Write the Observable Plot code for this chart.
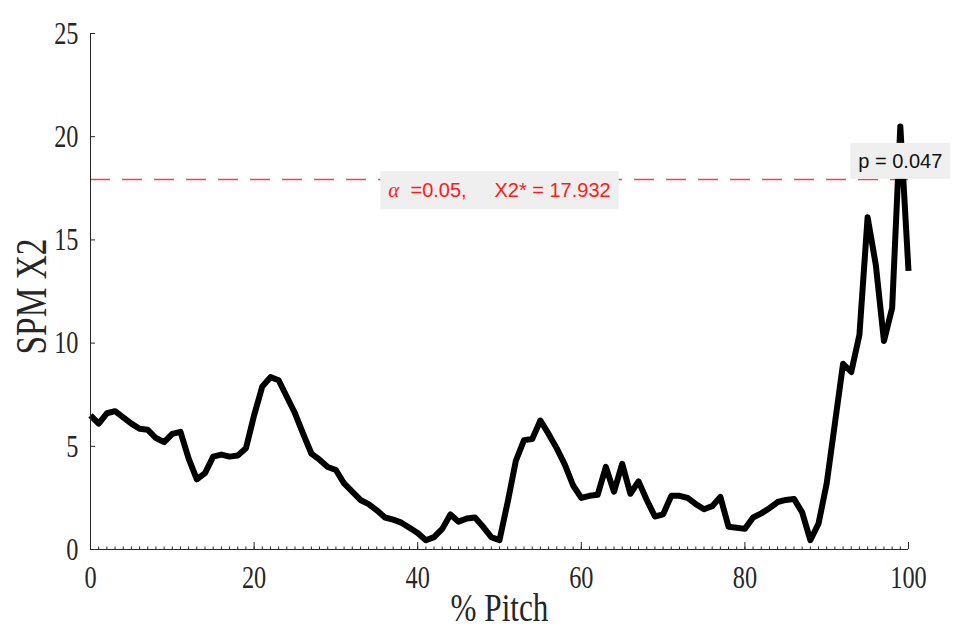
<!DOCTYPE html>
<html>
<head>
<meta charset="utf-8">
<script src="https://cdn.jsdelivr.net/npm/d3@7"></script>
<script src="https://cdn.jsdelivr.net/npm/@observablehq/plot@0.6"></script>
<style>
  html, body { margin: 0; padding: 0; background: #ffffff; }
</style>
</head>
<body>
<div id="chart"></div>
<script>
// ---- data ----
const pitch = [0,1,2,3,4,5,6,7,8,9,10,11,12,13,14,15,16,17,18,19,20,21,22,23,24,25,26,27,28,29,30,31,32,33,34,35,36,37,38,39,40,41,42,43,44,45,46,47,48,49,50,51,52,53,54,55,56,57,58,59,60,61,62,63,64,65,66,67,68,69,70,71,72,73,74,75,76,77,78,79,80,81,82,83,84,85,86,87,88,89,90,91,92,93,94,95,96,97,98,99,100];
const spmX2 = [6.5,6.1,6.6,6.7,6.4,6.1,5.85,5.8,5.4,5.2,5.6,5.7,4.4,3.4,3.7,4.5,4.6,4.5,4.55,4.9,
               6.5,7.9,8.35,8.2,7.4,6.6,5.6,4.65,4.35,4.0,3.85,3.2,2.8,2.4,2.2,1.9,1.55,1.45,1.3,1.05,
               0.8,0.45,0.6,1.0,1.7,1.35,1.5,1.55,1.1,0.6,0.45,2.3,4.3,5.3,5.35,6.25,5.6,4.9,4.1,3.1,
               2.5,2.6,2.65,4.0,2.8,4.15,2.7,3.3,2.4,1.6,1.7,2.6,2.6,2.5,2.2,1.95,2.1,2.55,1.1,1.05,
               1.0,1.55,1.75,2.0,2.3,2.4,2.45,1.8,0.45,1.25,3.2,6.1,9.0,8.6,10.4,16.1,13.8,10.1,11.7,20.5,13.5];
const yTicks = [0,5,10,15,20,25];
const xTicks = [0,20,40,60,80,100];
const threshold = [17.932];
const alphaSymbol = "α";
const alphaRest = "  =0.05,     X2* = 17.932";
const alphaLabel = alphaSymbol + alphaRest;
const pLabel = "p = 0.047";
const xLabel = "% Pitch";
const yLabel = "SPM X2";

const rows = pitch.map((p, i) => ({pitch: p, value: spmX2[i]}));

const serif = "'Liberation Serif', 'Times New Roman', Times, serif";
const sans = "'Liberation Sans', Arial, Helvetica, sans-serif";

const svg = Plot.plot({
  width: 966,
  height: 633,
  marginLeft: 90,
  marginRight: 58,
  marginTop: 33,
  marginBottom: 84,
  style: {background: "#ffffff", fontFamily: serif, fontSize: "32px", color: "#262626"},
  x: {domain: [0, 100]},
  y: {domain: [0, 25]},
  marks: [
    Plot.ruleY(threshold, {stroke: "#f24444", strokeWidth: 1.5, strokeDasharray: "20,12"}),
    Plot.line(rows, {x: "pitch", y: "value", stroke: "#000000", strokeWidth: 6, strokeLinejoin: "round", strokeLinecap: "butt"}),
    Plot.ruleX([0], {stroke: "#262626", strokeWidth: 1}),
    Plot.ruleY([0], {stroke: "#262626", strokeWidth: 1}),
    Plot.axisY({ticks: yTicks, tickSize: 0, tickPadding: 12, fontSize: 32, fontFamily: serif, label: null}),
    Plot.axisY({ticks: yTicks, tickSize: -5, tickFormat: () => "", label: null}),
    Plot.axisX({ticks: xTicks, tickSize: 0, tickPadding: 16, fontSize: 32, fontFamily: serif, label: null}),
    Plot.axisX({ticks: xTicks, tickSize: -7, tickFormat: () => "", label: null}),
    Plot.axisX({ticks: pitch, tickSize: -2.5, tickFormat: () => "", label: null}),
    Plot.text([xLabel], {frameAnchor: "bottom", textAnchor: "middle", lineAnchor: "middle", dy: 58, fontSize: 41, fontFamily: serif, fill: "#262626"}),
    Plot.text([yLabel], {frameAnchor: "left", textAnchor: "middle", lineAnchor: "middle", rotate: -90, dx: -59, dy: 5, fontSize: 44, fontFamily: serif, fill: "#262626"}),
    Plot.text([alphaLabel], {x: 50, y: 17.38, fill: "#ff1a1a", fontSize: 20, fontFamily: sans}),
    Plot.text([pLabel], {x: 99, y: 18.8, fill: "#111111", fontSize: 20, fontFamily: sans})
  ]
});

document.getElementById("chart").appendChild(svg);

// condensed look of the serif texts (glyphs narrower than tall)
const squeeze = 0.76;
d3.select(svg).selectAll("text").each(function() {
  const t = this.textContent;
  if (t === "" || t === alphaLabel || t === pLabel) return;
  const tr = this.getAttribute("transform");
  if (tr) {
    this.setAttribute("transform", tr + ` scale(${squeeze},1)`);
  } else {
    const x = +this.getAttribute("x") || 0, y = +this.getAttribute("y") || 0;
    this.setAttribute("transform", `translate(${x},${y}) scale(${squeeze},1) translate(${-x},${-y})`);
  }
});

// annotation boxes behind the label texts
d3.select(svg).selectAll("text").each(function() {
  const t = this.textContent;
  if (t !== alphaLabel && t !== pLabel) return;
  if (t === alphaLabel) {
    const sel = d3.select(this);
    sel.text(null).style("white-space", "pre");
    sel.append("tspan").text(alphaSymbol).style("font-family", serif).style("font-style", "italic").style("font-size", "21px");
    sel.append("tspan").text(alphaRest);
  }
  const b = this.getBBox();
  const padX = 8, padY = 7;
  const rect = document.createElementNS("http://www.w3.org/2000/svg", "rect");
  rect.setAttribute("x", b.x - padX);
  rect.setAttribute("y", b.y - padY);
  rect.setAttribute("width", b.width + 2 * padX);
  rect.setAttribute("height", b.height + 2 * padY);
  rect.setAttribute("fill", "#efefef");
  rect.setAttribute("stroke", "none");
  const tr = this.getAttribute("transform");
  if (tr) rect.setAttribute("transform", tr);
  this.parentNode.insertBefore(rect, this);
});
</script>
</body>
</html>
